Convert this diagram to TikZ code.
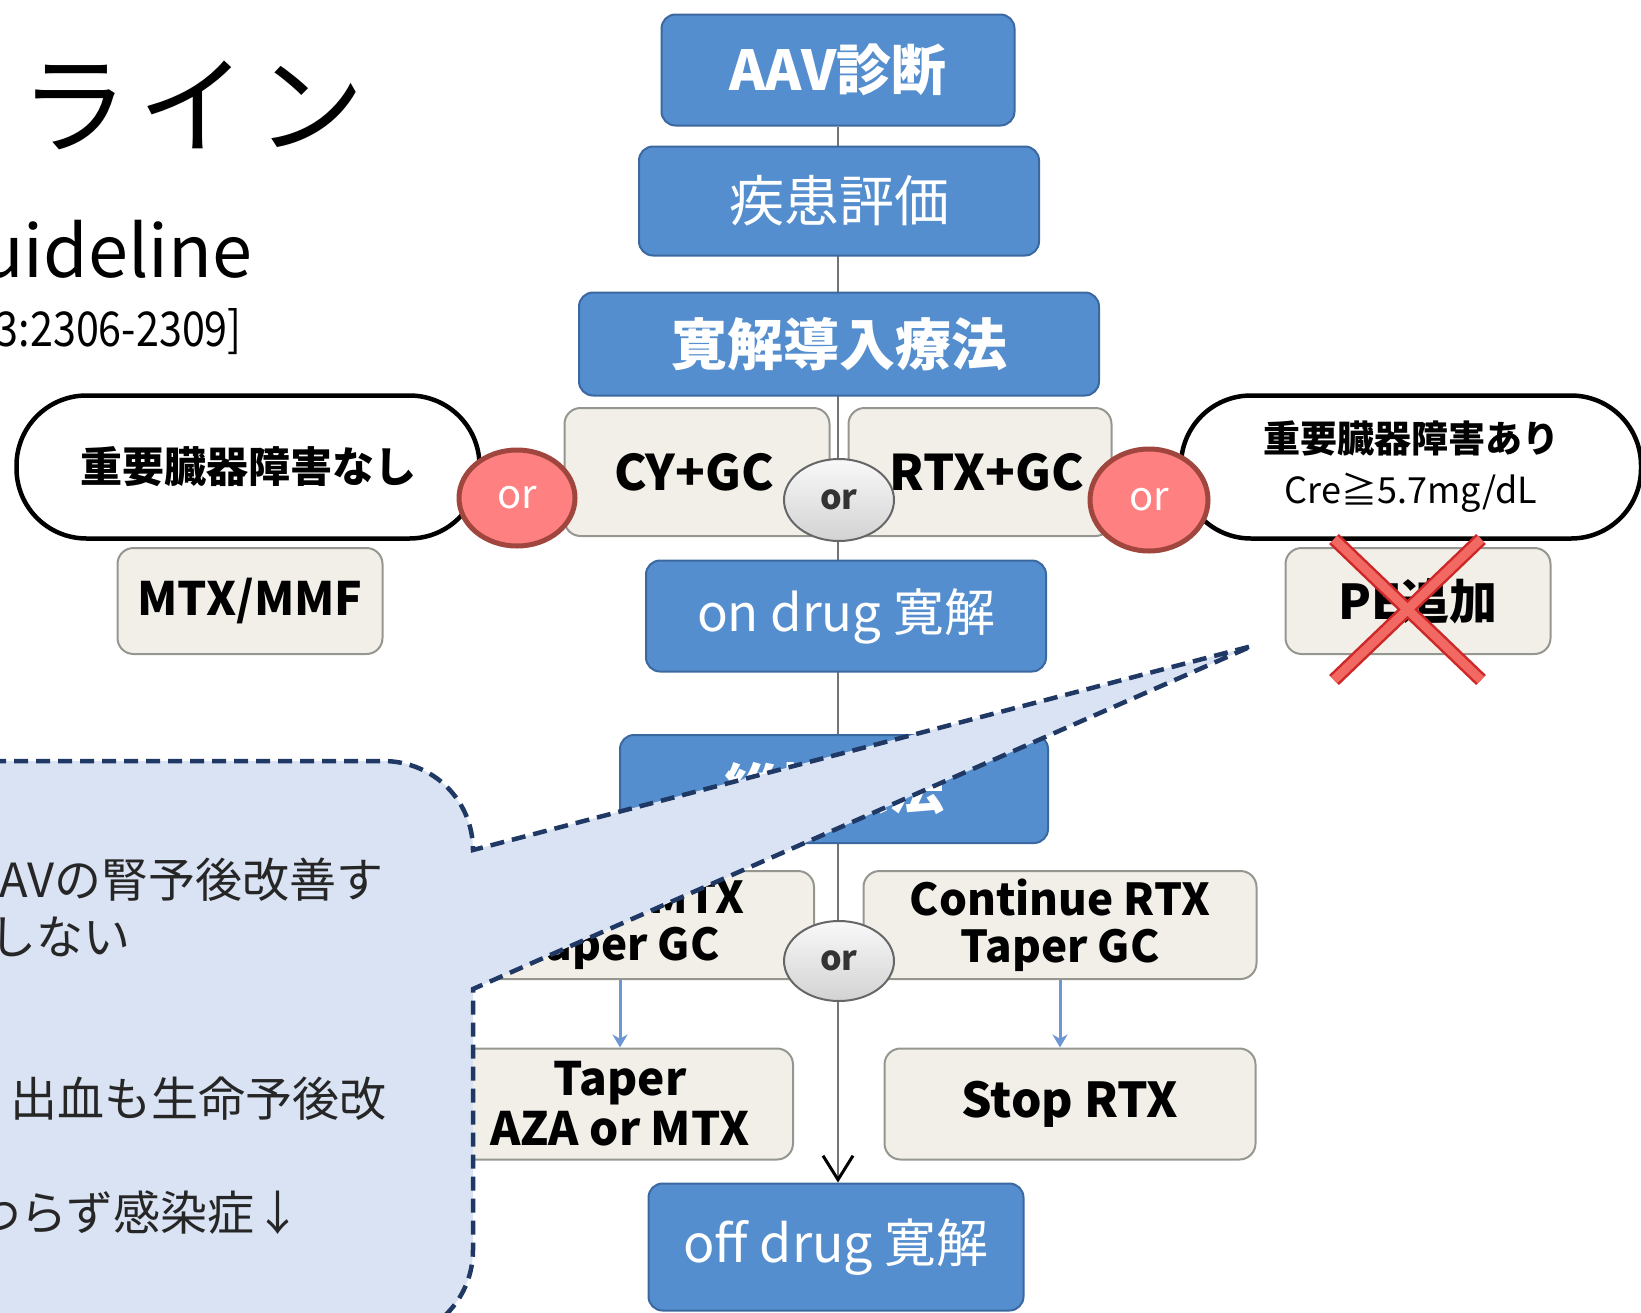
\documentclass[tikz,border=0pt]{standalone}
\usepackage{fontspec}
\setmainfont{Noto Sans CJK JP}
\usetikzlibrary{arrows.meta,shapes.geometric,backgrounds}

\definecolor{boxblue}{RGB}{84,142,206}
\definecolor{boxblueedge}{RGB}{60,104,160}
\definecolor{boxgray}{RGB}{241,239,232}
\definecolor{boxgrayedge}{RGB}{150,150,145}
\definecolor{orred}{RGB}{255,128,128}
\definecolor{orrededge}{RGB}{160,70,62}
\definecolor{calloutfill}{RGB}{218,227,243}
\definecolor{calloutedge}{RGB}{32,56,100}
\definecolor{crossred}{RGB}{242,105,100}
\definecolor{crossedge}{RGB}{205,40,40}
\definecolor{linegray}{RGB}{115,115,115}
\definecolor{arrowblue}{RGB}{110,150,210}

\newcommand{\fsz}[2]{\fontsize{#1}{#2}\selectfont}

\begin{document}
\begin{tikzpicture}[x=1pt, y=-1pt,
  bluebox/.style={draw=boxblueedge, fill=boxblue, line width=2pt, rounded corners=14pt, text=white, inner sep=0pt},
  graybox/.style={draw=boxgrayedge, fill=boxgray, line width=2pt, rounded corners=16pt, text=black, inner sep=0pt, align=center},
  pill/.style={draw=black, fill=white, line width=4.5pt, rounded corners=70pt, inner sep=0pt, align=center},
  redor/.style={ellipse, draw=orrededge, fill=orred, line width=5pt, text=white, inner sep=0pt, font=\fsz{40}{44}},
  grayor/.style={ellipse, draw=gray!80!black, top color=gray!5, bottom color=gray!35, line width=2pt, text=black!80, inner sep=0pt, font=\bfseries\fsz{34}{38}},
  calltext/.style={text=black!85, inner sep=0pt, font=\fsz{47}{50}},
  subarrow/.style={line width=3pt, arrowblue, -{Stealth[length=13pt, width=15pt]}},
]
  \useasboundingbox (0,0) rectangle (1641,1312);
  \clip (0,0) rectangle (1641,1312);

  % Slide title (cut off on the left)
  \node[anchor=base west, inner sep=0pt, font=\fsz{108}{110}] (title) at (20,145) {ラ\hspace{10pt}イ\hspace{10pt}ン};
  \node[anchor=base west, inner sep=0pt, font=\fsz{72}{76}] (subtitle) at (-20,277) {uideline};
  \node[anchor=base east, inner sep=0pt, font=\fsz{48}{50}] (ref) at (242,346) {\scalebox{0.86}[1]{3:2306-2309]}};

  % Main flow boxes
  \node[bluebox, minimum width=353pt, minimum height=111pt, font=\bfseries\fsz{55}{60}] (aav) at (838,70) {AAV診断};
  \node[bluebox, minimum width=400pt, minimum height=109pt, font=\fsz{55}{60}] (hyoka) at (839,201) {疾患評価};
  \node[bluebox, minimum width=520pt, minimum height=103pt, font=\bfseries\fsz{56}{60}] (induction) at (839,344) {寛解導入療法};
  \node[bluebox, minimum width=400pt, minimum height=111pt, font=\fsz{51}{55}] (ondrug) at (846,616) {on drug 寛解};
  \node[bluebox, minimum width=428pt, minimum height=108pt, font=\bfseries\fsz{55}{60}] (maint) at (834,789) {維持療法};
  \node[bluebox, minimum width=375pt, minimum height=127pt, font=\fsz{52}{56}] (offdrug) at (836,1247) {off drug 寛解};

  % Centre line, behind the treatment boxes
  \begin{scope}[on background layer]
    \draw[line width=2pt, linegray, -{Straight Barb[length=24pt, width=30pt, line width=3pt, black]}]
      (aav.south) -- (aav.south |- offdrug.north);
  \end{scope}

  % Induction options
  \node[graybox, minimum width=265pt, minimum height=128pt, font=\bfseries\fsz{49}{52}] (cygc) at (697,472) {CY+GC\hspace{6pt}};
  \node[graybox, minimum width=263pt, minimum height=128pt, font=\bfseries\fsz{49}{52}] (rtxgc) at (980,472) {\hspace{14pt}RTX+GC};
  \node[grayor, minimum width=110pt, minimum height=82pt] (orinduction) at (839,500) {or};

  % Maintenance options
  \node[graybox, minimum width=388pt, minimum height=108pt, font=\bfseries\fsz{44}{47}] (maintl) at (620,925) {AZA or MTX\\Taper GC};
  \node[graybox, minimum width=393pt, minimum height=108pt, font=\bfseries\fsz{44}{47}] (maintr) at (1060,925) {Continue RTX\\Taper GC};
  \node[grayor, minimum width=110pt, minimum height=80pt] (ormaint) at (839,961) {or};
  \node[graybox, minimum width=346pt, minimum height=111pt, font=\bfseries\fsz{46}{50}] (taperl) at (620,1104) {Taper\\AZA or MTX};
  \node[graybox, minimum width=371pt, minimum height=111pt, font=\bfseries\fsz{48}{52}] (stoprtx) at (1070,1104) {Stop RTX};

  \draw[subarrow] (maintl.south) -- (taperl.north);
  \draw[subarrow] (maintr.south) -- (maintr.south |- stoprtx.north);

  % Left branch: no major organ damage
  \node[pill, minimum width=463pt, minimum height=143pt, font=\bfseries\fsz{42}{46}] (noorgan) at (248,467) {重要臓器障害なし};
  \node[graybox, minimum width=265pt, minimum height=106pt, font=\bfseries\fsz{46}{50}] (mtxmmf) at (250,601) {MTX/MMF};
  \node[redor, minimum width=116pt, minimum height=96pt] (orleft) at (517,498) {or};

  % Right branch: major organ damage
  \node[pill, minimum width=460pt, minimum height=143pt, align=center] (organ) at (1411,467)
    {{\bfseries\fsz{37}{40}重要臓器障害あり}\\[16pt]{\fsz{36}{40}Cre≧5.7mg/dL}};
  \node[graybox, minimum width=265pt, minimum height=106pt, font=\bfseries\fsz{48}{52}] (pe) at (1418,601) {PE追加};
  \node[redor, minimum width=118pt, minimum height=102pt] (orright) at (1149,500) {or};

  % Cross over PE
  \coordinate (crossa) at (1334,539);
  \coordinate (crossb) at (1481,680);
  \coordinate (crossc) at (1481,539);
  \coordinate (crossd) at (1334,680);
  \draw[line width=14pt, crossedge] (crossa) -- (crossb) (crossc) -- (crossd);
  \draw[line width=9pt, crossred] (crossa) -- (crossb) (crossc) -- (crossd);

  % Callout pointing at PE
  \coordinate (tip) at (1252,646);
  \draw[fill=calloutfill, draw=calloutedge, line width=4.5pt, dash pattern=on 14pt off 8pt]
    (-30,761) -- (383,761) .. controls (433,761) and (473,800) .. (473,850) -- (tip)
    -- (473,989) -- (473,1250) .. controls (473,1300) and (433,1340) .. (383,1340) -- (-30,1340) -- cycle;

  \node[calltext, anchor=east] (note1) at (384,880) {AVの腎予後改善す};
  \node[calltext, anchor=east] (note2) at (131,937) {しない};
  \node[calltext, anchor=east] (note3) at (387,1099) {出血も生命予後改};
  \node[calltext, anchor=west] (note4) at (-27,1213) {わらず感染症↓};
\end{tikzpicture}
\end{document}
